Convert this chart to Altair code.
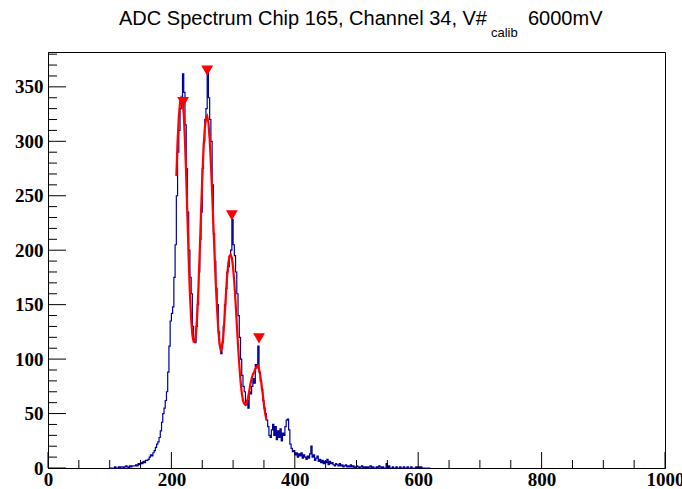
import altair as alt
import pandas as pd
import numpy as np

# ---------------- data ----------------
title_main = "ADC Spectrum Chip 165, Channel 34, V#"
title_sub = "calib"
title_end = "6000mV"

bin_start = 100
bin_width = 2
counts = [
    0, 0, 0, 0, 1, 0, 0, 1, 0, 1,
    1, 0, 1, 2, 1, 0, 2, 1, 2, 2,
    2, 3, 2, 4, 3, 5, 4, 6, 5, 7,
    7, 8, 10, 12, 11, 14, 16, 19, 22, 24,
    28, 34, 42, 50, 55, 62, 70, 88, 112, 135,
    142, 148, 175, 205, 250, 290, 310, 330, 338, 362,
    345, 315, 275, 235, 200, 175, 160, 130, 118, 115,
    130, 150, 180, 210, 235, 275, 300, 320, 330, 364,
    340, 320, 300, 260, 215, 190, 165, 150, 125, 112,
    105, 115, 130, 150, 165, 180, 185, 195, 200, 228,
    205, 195, 180, 160, 140, 120, 100, 85, 75, 70,
    58, 62, 55, 70, 68, 75, 82, 78, 95, 92,
    112, 88, 80, 72, 62, 55, 50, 44, 38, 30,
    28, 35, 40, 30, 38, 26, 34, 28, 36, 25,
    32, 30, 38, 44, 45, 35, 22, 18, 15, 16,
    12, 14, 10, 13, 11, 14, 9, 12, 10, 8,
    11, 9, 13, 20, 10, 12, 7, 9, 11, 6,
    8, 5, 7, 4, 6, 5, 8, 3, 6, 4,
    5, 3, 2, 4, 3, 2, 4, 2, 3, 1,
    2, 3, 1, 2, 1, 3, 1, 2, 0, 1,
    2, 1, 0, 1, 2, 0, 1, 0, 1, 0,
    1, 2, 0, 1, 0, 0, 1, 0, 2, 1,
    0, 1, 0, 0, 4, 0, 2, 0, 0, 1,
    0, 0, 1, 0, 0, 1, 0, 0, 1, 0,
    0, 1, 0, 0, 1, 0, 0, 0, 1, 0,
    1, 0, 1, 0, 0, 0, 0, 0, 0, 0,
]

fit_x = [208, 210, 212, 214, 216, 218, 220, 222, 224, 226, 228, 230, 232, 234, 236,
         238, 240, 242, 244, 246, 248, 250, 252, 254, 256, 258, 260, 262, 264, 266,
         268, 270, 272, 274, 276, 278, 280, 282, 284, 286, 288, 290, 292, 294, 296,
         298, 300, 302, 304, 306, 308, 310, 312, 314, 316, 318, 320, 322, 324, 326,
         328, 330, 332, 334, 336, 338, 340, 342, 344, 346, 348, 350, 352, 354]
fit_y = [268, 300, 322, 336, 340, 338, 325, 300, 268, 230, 192, 160, 137, 122, 116,
         116, 124, 142, 168, 200, 234, 266, 292, 311, 321, 323, 317, 302, 280, 253,
         224, 195, 168, 146, 127, 114, 108, 110, 120, 137, 156, 174, 187, 194, 196,
         193, 184, 170, 152, 132, 112, 95, 80, 69, 62, 59, 58, 60, 64, 70,
         77, 82, 86, 88, 91, 93, 94, 91, 85, 77, 68, 58, 50, 44]

peak_x = [219, 258, 298, 342]
peak_y = [336, 365, 232, 119]

x_major = [0, 200, 400, 600, 800, 1000]
x_minor = [v for v in range(0, 1001, 50) if v not in x_major]
y_major = [0, 50, 100, 150, 200, 250, 300, 350]
y_minor = [v for v in range(0, 381, 10) if v not in y_major]

X_DOMAIN = [0, 1000]
Y_DOMAIN = [0, 382]

# ---------------- layout ----------------
W, H = 617, 416
BLUE = "#000099"
RED = "#ff0000"
LABEL_FONT = "Liberation Serif"

edges = [bin_start + bin_width * i for i in range(len(counts) + 1)]
hist_df = pd.DataFrame({"adc": edges, "n": counts + [counts[-1]]})
fit_df = pd.DataFrame({"adc": fit_x, "n": fit_y})
peak_df = pd.DataFrame({"adc": peak_x, "n": peak_y})

xs = alt.Scale(domain=X_DOMAIN, nice=False, zero=False)
ys = alt.Scale(domain=Y_DOMAIN, nice=False, zero=False)

x_axis = alt.Axis(values=x_major, format="d", ticks=False, grid=False, title=None,
                  labelFont=LABEL_FONT, labelFontWeight="bold", labelFontSize=19,
                  labelColor="black", domainColor="black", labelPadding=2,
                  labelFlush=False, labelOverlap=False)
y_axis = alt.Axis(values=y_major, format="d", ticks=False, grid=False, title=None,
                  labelFont=LABEL_FONT, labelFontWeight="bold", labelFontSize=19,
                  labelColor="black", domainColor="black", labelPadding=5,
                  labelFlush=False, labelOverlap=False)

hist = alt.Chart(hist_df).mark_line(interpolate="step-after", color=BLUE,
                                     strokeWidth=1.2).encode(
    x=alt.X("adc:Q", scale=xs, axis=x_axis),
    y=alt.Y("n:Q", scale=ys, axis=y_axis),
)

fit = alt.Chart(fit_df).mark_line(color=RED, strokeWidth=2.2).encode(
    x=alt.X("adc:Q", scale=xs),
    y=alt.Y("n:Q", scale=ys),
)

peaks = alt.Chart(peak_df).mark_point(shape="triangle-down", filled=True,
                                      color=RED, size=140, opacity=1).encode(
    x=alt.X("adc:Q", scale=xs),
    y=alt.Y("n:Q", scale=ys),
)

def xticks(vals, length):
    return alt.Chart(pd.DataFrame({"v": vals})).mark_rule(color="black", strokeWidth=1).encode(
        x=alt.X("v:Q", scale=xs),
        y=alt.value(H),
        y2=alt.value(H - length),
    )

def yticks(vals, length):
    return alt.Chart(pd.DataFrame({"v": vals})).mark_rule(color="black", strokeWidth=1).encode(
        y=alt.Y("v:Q", scale=ys),
        x=alt.value(0),
        x2=alt.value(length),
    )

t_df = pd.DataFrame({"a": [title_main], "b": [title_sub], "c": [title_end]})
t1 = alt.Chart(t_df).mark_text(align="right", baseline="alphabetic", font="Liberation Sans",
                               fontSize=20, color="black").encode(
    text="a:N", x=alt.value(439), y=alt.value(-27))
t2 = alt.Chart(t_df).mark_text(align="left", baseline="alphabetic", font="Liberation Sans",
                               fontSize=13, color="black").encode(
    text="b:N", x=alt.value(443), y=alt.value(-15))
t3 = alt.Chart(t_df).mark_text(align="left", baseline="alphabetic", font="Liberation Sans",
                               fontSize=20, color="black").encode(
    text="c:N", x=alt.value(480), y=alt.value(-27))

chart = alt.layer(
    hist, fit, peaks,
    xticks(x_major, 16), xticks(x_minor, 8),
    yticks(y_major, 18), yticks(y_minor, 9),
    t1, t2, t3,
).properties(
    width=W, height=H,
    padding={"left": 48, "top": 52, "right": 17, "bottom": 21},
    autosize="none",
    background="white",
).configure_view(stroke="black", strokeWidth=1)

chart.save("out.html", embed_options={"renderer": "svg", "actions": False})
